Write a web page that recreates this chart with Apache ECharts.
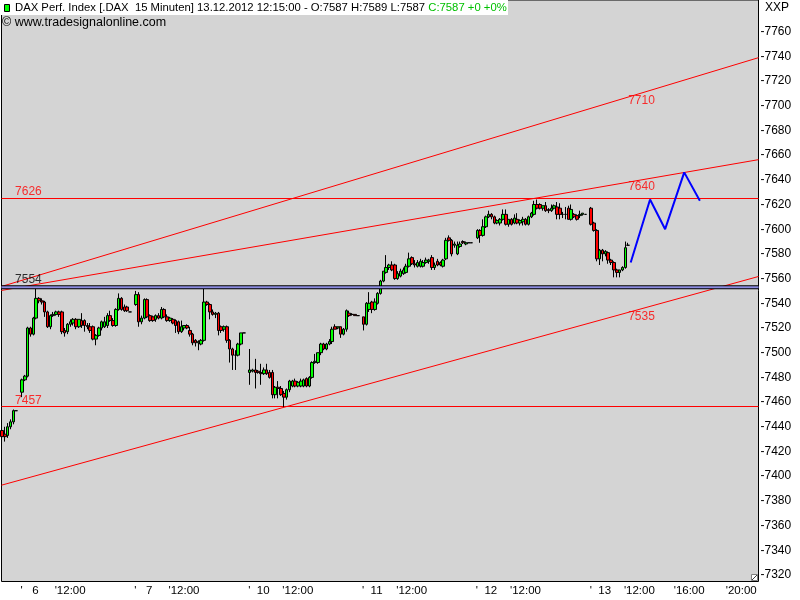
<!DOCTYPE html>
<html><head><meta charset="utf-8">
<script src="https://cdn.jsdelivr.net/npm/echarts@6/dist/echarts.min.js"></script>
<style>html,body{margin:0;padding:0;background:#fff}#c{width:800px;height:600px}</style>
</head><body><div id="c"></div>
<script>
// ---- DATA -------------------------------------------------------------
// 15-minute bars of the DAX, [open, high, low, close]; bar k of a day opens at 9:00 + 15*k min
const bars05 = [ // 5.12. (last bars of the session, from bar 33)
  [7437,7441,7428,7432],[7434,7440,7428,7432],[7433,7443,7431,7440],[7440,7446,7438,7444],
  [7444,7454,7442,7453],[7453,7453,7453,7453]
];
const bars06 = [
  [7468,7479,7464,7478],[7478,7482,7477,7481],[7481,7521,7480,7520],[7520,7521,7513,7515],
  [7515,7529,7514,7528],[7528,7553,7527,7544],[7544,7545,7540,7542],[7542,7544,7539,7541],
  [7541,7542,7529,7533],[7533,7534,7520,7521],[7521,7531,7519,7530],[7530,7533,7529,7531],
  [7531,7534,7530,7533],[7533,7534,7529,7531],[7533,7534,7515,7517],[7518,7520,7513,7516],
  [7517,7524,7515,7523],[7523,7527,7521,7525],[7524,7528,7522,7527],[7527,7528,7519,7521],
  [7521,7527,7520,7527],[7526,7532,7520,7522],[7526,7527,7517,7522],[7522,7524,7519,7521],
  [7521,7524,7516,7518],[7521,7522,7510,7511],[7511,7515,7506,7514],[7514,7521,7513,7520],
  [7520,7526,7518,7525],[7521,7529,7520,7525],[7522,7532,7520,7530],[7530,7534,7525,7526],
  [7526,7528,7521,7522],[7522,7536,7521,7535],[7535,7548,7534,7544],[7544,7545,7534,7535],
  [7537,7539,7533,7534],[7537,7538,7533,7534],[7533,7533,7533,7533]
];
const bars07 = [
  [7539,7550,7538,7547],[7547,7549,7521,7525],[7525,7530,7523,7528],[7528,7544,7527,7543],
  [7543,7544,7528,7529],[7530,7531,7525,7526],[7529,7530,7525,7526],[7527,7531,7525,7530],
  [7530,7532,7527,7528],[7528,7537,7527,7535],[7535,7536,7528,7529],[7529,7531,7525,7526],
  [7526,7529,7525,7528],[7527,7528,7523,7524],[7526,7527,7516,7522],[7525,7526,7515,7517],
  [7517,7526,7516,7521],[7520,7522,7518,7522],[7522,7523,7519,7520],[7518,7521,7513,7515],
  [7515,7516,7506,7508],[7510,7511,7505,7508],[7508,7510,7502,7509],[7507,7511,7506,7510],
  [7510,7553,7509,7541],[7541,7542,7538,7539],[7539,7540,7527,7533],[7533,7535,7530,7531],
  [7531,7533,7528,7532],[7532,7533,7514,7518],[7521,7522,7516,7518],[7519,7522,7517,7521],
  [7521,7522,7508,7510],[7510,7511,7492,7503],[7503,7504,7486,7498],[7498,7502,7486,7498],
  [7498,7508,7497,7507],[7507,7516,7506,7516],[7516,7516,7516,7516]
];
const bars10 = [
  [7484,7503,7474,7486],[7485,7487,7484,7486],[7486,7495,7471,7484],[7485,7486,7483,7484],
  [7484,7491,7474,7483],[7483,7488,7482,7486],[7486,7491,7482,7483],[7484,7486,7479,7480],
  [7484,7486,7463,7466],[7466,7473,7463,7472],[7472,7477,7463,7471],[7471,7473,7465,7466],
  [7467,7469,7456,7464],[7464,7471,7462,7470],[7470,7478,7468,7477],[7473,7478,7472,7477],
  [7477,7479,7472,7473],[7473,7477,7472,7476],[7473,7479,7472,7477],[7473,7479,7472,7478],
  [7479,7480,7472,7473],[7473,7481,7472,7480],[7480,7493,7479,7492],[7492,7499,7491,7493],
  [7492,7500,7491,7500],[7500,7508,7498,7507],[7507,7508,7502,7503],[7503,7508,7502,7507],
  [7507,7511,7506,7509],[7509,7521,7507,7519],[7521,7523,7519,7519],[7520,7521,7519,7521],
  [7521,7521,7512,7515],[7515,7520,7514,7519],[7519,7535,7517,7534],[7532,7534,7529,7530],
  [7531,7532,7530,7531],[7531,7531,7530,7530],[7530,7530,7530,7530]
];
const bars11 = [
  [7529,7529,7518,7523],[7523,7541,7522,7540],[7535,7549,7533,7540],[7541,7542,7532,7535],
  [7535,7544,7534,7541],[7540,7549,7539,7548],[7548,7559,7547,7558],[7558,7566,7557,7566],
  [7565,7579,7564,7569],[7569,7572,7567,7571],[7571,7574,7566,7567],[7571,7572,7559,7560],
  [7560,7566,7559,7564],[7562,7568,7561,7566],[7564,7569,7563,7567],[7565,7572,7564,7570],
  [7570,7581,7569,7576],[7577,7578,7571,7572],[7572,7575,7569,7571],[7570,7575,7569,7573],
  [7570,7576,7569,7574],[7570,7575,7569,7573],[7573,7577,7572,7575],[7574,7576,7572,7575],
  [7577,7579,7567,7569],[7569,7573,7567,7571],[7574,7576,7570,7571],[7573,7574,7570,7571],
  [7570,7576,7569,7575],[7576,7593,7575,7591],[7593,7595,7590,7591],[7591,7592,7578,7580],
  [7587,7590,7585,7588],[7580,7590,7579,7587],[7586,7590,7585,7588],[7590,7591,7588,7589],
  [7588,7590,7587,7589],[7589,7589,7589,7589],[7589,7589,7589,7589]
];
const bars12 = [
  [7593,7600,7592,7599],[7599,7600,7589,7595],[7595,7608,7594,7602],[7602,7611,7601,7610],
  [7610,7615,7609,7612],[7612,7613,7608,7610],[7610,7611,7604,7605],[7605,7608,7604,7607],
  [7605,7609,7603,7608],[7608,7616,7607,7612],[7612,7616,7603,7604],[7604,7608,7602,7608],
  [7608,7609,7603,7604],[7605,7612,7604,7609],[7608,7613,7604,7605],[7605,7608,7603,7607],
  [7606,7610,7603,7608],[7608,7609,7603,7604],[7604,7611,7603,7610],[7610,7614,7609,7613],
  [7612,7623,7611,7620],[7620,7624,7616,7617],[7620,7621,7616,7617],[7617,7619,7615,7619],
  [7619,7622,7614,7615],[7616,7617,7613,7615],[7615,7620,7614,7617],[7617,7620,7616,7619],
  [7618,7622,7608,7612],[7617,7621,7608,7612],[7612,7614,7609,7612],[7612,7618,7608,7612],
  [7617,7619,7608,7608],[7608,7620,7607,7616],[7612,7613,7609,7610],[7611,7612,7607,7608],
  [7611,7615,7609,7612],[7612,7613,7611,7613],[7612,7612,7612,7612]
];
const bars13 = [
  [7617,7618,7603,7604],[7605,7606,7598,7599],[7599,7600,7574,7576],[7576,7584,7571,7583],
  [7583,7584,7574,7580],[7580,7583,7578,7582],[7581,7582,7572,7575],[7575,7576,7571,7573],
  [7573,7574,7561,7567],[7567,7568,7561,7565],[7565,7567,7561,7567],[7567,7570,7566,7569],
  [7569,7590,7568,7585],[7587,7589,7587,7587]
];
// session days in slot order (each day occupies 40 slots of 15 min)
const sessions = [
  {bars: bars05, dayIndex: -1, firstBar: 33},
  {bars: bars06, dayIndex: 0, firstBar: 0},
  {bars: bars07, dayIndex: 1, firstBar: 0},
  {bars: bars10, dayIndex: 2, firstBar: 0},
  {bars: bars11, dayIndex: 3, firstBar: 0},
  {bars: bars12, dayIndex: 4, firstBar: 0},
  {bars: bars13, dayIndex: 5, firstBar: 0}
];
const SLOTS_PER_DAY = 40;
// x tick labels (positions in 15-min slots)
const xTickSlots  = [-0.5, 11.5, 39.5, 51.5, 79.5, 91.5, 119.5, 131.5, 159.5, 171.5, 199.5, 211.5, 229, 247.3];
const xTickLabels = ["'   6", "'12:00", "'   7", "'12:00", "'  10", "'12:00", "'  11", "'12:00", "'  12", "'12:00", "'  13", "'12:00", "'16:00", "'20:00"];
// y tick labels
const yTicks = [7320,7340,7360,7380,7400,7420,7440,7460,7480,7500,7520,7540,7560,7580,7600,7620,7640,7660,7680,7700,7720,7740,7760];
// drawn objects
const horizontalLevels = [7625, 7457];           // red support / resistance
const blueLevel = 7553;                          // blue/black line
const channelUpper  = [7553.6, 7738.9];          // values at left / right edge
const channelMiddle = [7550.4, 7656.3];
const channelLower  = [7392.7, 7561.7];
const projSlots  = [213.9, 220.7, 226.0, 232.7, 238.2];
const projValues = [7573, 7624, 7600, 7646, 7623];
const levelLabels   = ['7626', '7554', '7457'];
const levelLabelY   = [7630.4, 7559.3, 7461.4];
const channelLabels = ['7710', '7640', '7535'];
const channelLabelY = [7704, 7634.4, 7529.3];

// ---- CHART ------------------------------------------------------------
const X_MIN = -7.17, X_MAX = 258.8, Y_MIN = 7314.7, Y_MAX = 7785.6;
const FONT = 'Liberation Sans, Arial, sans-serif';

const candles = [];
sessions.forEach(s => s.bars.forEach((b, k) => {
  const slot = s.dayIndex * SLOTS_PER_DAY + s.firstBar + k;
  candles.push([slot, b[0], b[3], b[2], b[1]]);
}));
const last = bars13[bars13.length - 1];

function edgeLine(vals, color, width, z) {
  return {type: 'line', data: [[X_MIN, vals[0]], [X_MAX, vals[1]]], symbol: 'none', silent: true,
    lineStyle: {color: color, width: width}, z: z, animation: false};
}
function textSeries(xs, ys, texts, colors) {
  return {type: 'scatter', symbolSize: 0, silent: true, z: 20,
    data: texts.map((t, i) => ({value: [xs[i], ys[i]], name: t, label: {color: colors[i]}})),
    label: {show: true, position: [0, 0], align: 'left', verticalAlign: 'middle',
      formatter: p => p.name, fontSize: 12, fontFamily: FONT}};
}

const series = [
  {type: 'candlestick', data: candles, encode: {x: 0, y: [1, 2, 3, 4]}, barWidth: 3, z: 5,
    itemStyle: {color: '#00ff00', color0: '#ff0000', borderColor: '#000', borderColor0: '#000',
      borderColorDoji: '#000', borderWidth: 1},
    markLine: {silent: true, symbol: 'none', animation: false, label: {show: false},
      lineStyle: {color: '#ff0000', width: 1, type: 'solid'},
      data: horizontalLevels.map(v => ({yAxis: v}))}},
  edgeLine(channelUpper, '#ff0000', 1, 10),
  edgeLine(channelMiddle, '#ff0000', 1, 10),
  edgeLine(channelLower, '#ff0000', 1, 10),
  edgeLine([blueLevel, blueLevel], '#000000', 4, 11),
  edgeLine([blueLevel, blueLevel], '#8c8ce0', 2, 12),
  {type: 'line', data: projSlots.map((x, i) => [x, projValues[i]]), symbol: 'none', silent: true,
    lineStyle: {color: '#0000ff', width: 2}, z: 13},
  textSeries([-2.4, -2.4, -2.4], levelLabelY, levelLabels, ['#ff0000', '#000000', '#ff0000']),
  textSeries([213, 213, 213], channelLabelY, channelLabels, ['#ff0000', '#ff0000', '#ff0000'])
];

const chart = echarts.init(document.getElementById('c'), null, {renderer: 'canvas'});
chart.setOption({
  animation: false,
  backgroundColor: '#ffffff',
  grid: {left: 1.5, right: 41.5, top: -1, bottom: 18.5, show: true, backgroundColor: '#d4d4d4',
    borderColor: '#000', borderWidth: 1, containLabel: false},
  xAxis: {type: 'value', min: X_MIN, max: X_MAX,
    axisLine: {show: false}, axisTick: {show: false}, splitLine: {show: false},
    axisLabel: {customValues: xTickSlots, align: 'left', margin: 3, fontSize: 11.5, color: '#000', fontFamily: FONT,
      formatter: v => {
        let best = 0;
        xTickSlots.forEach((s, i) => { if (Math.abs(s - v) < Math.abs(xTickSlots[best] - v)) best = i; });
        return xTickLabels[best];
      }}},
  yAxis: {type: 'value', position: 'right', min: Y_MIN, max: Y_MAX, scale: true,
    axisLine: {show: false}, axisTick: {show: false}, splitLine: {show: false},
    axisLabel: {customValues: yTicks, margin: 2, fontSize: 12, color: '#000', fontFamily: FONT,
      formatter: v => '-' + v}},
  series: series,
  graphic: [
    {type: 'rect', left: 0, top: 0, shape: {width: 508, height: 15}, style: {fill: '#fff'}, z: 100},
    {type: 'rect', shape: {x: 4.5, y: 4.5, width: 5, height: 7}, style: {fill: '#00ff00', stroke: '#000', lineWidth: 1}, z: 101},
    {type: 'text', x: 15, y: 8, z: 101, style: {
      text: '{k|DAX Perf. Index [.DAX  15 Minuten] 13.12.2012 12:15:00 - O:' + last[0] + ' H:' + last[1] + ' L:' + last[2] + ' }{g|C:' + last[3] + ' +0 +0%}',
      verticalAlign: 'middle', font: '11.3px ' + FONT,
      rich: {k: {fill: '#000', fontSize: 11.3, fontFamily: FONT}, g: {fill: '#00c000', fontSize: 11.3, fontFamily: FONT}}}},
    {type: 'text', x: 2, y: 23, z: 101, style: {text: '\u00a9 www.tradesignalonline.com', fill: '#000',
      font: '12.5px ' + FONT, verticalAlign: 'middle'}},
    {type: 'text', x: 765, y: 8, z: 101, style: {text: 'XXP', fill: '#000', font: '12px ' + FONT, verticalAlign: 'middle'}},
    // resize grip in the lower right corner of the plot
    {type: 'rect', shape: {x: 751.5, y: 574.5, width: 6, height: 6}, style: {fill: '#ffffff', stroke: '#808080', lineWidth: 1}, z: 101},
    {type: 'line', shape: {x1: 752, y1: 580, x2: 757, y2: 575}, style: {stroke: '#404040', lineWidth: 1}, z: 102}
  ]
});
</script></body></html>
